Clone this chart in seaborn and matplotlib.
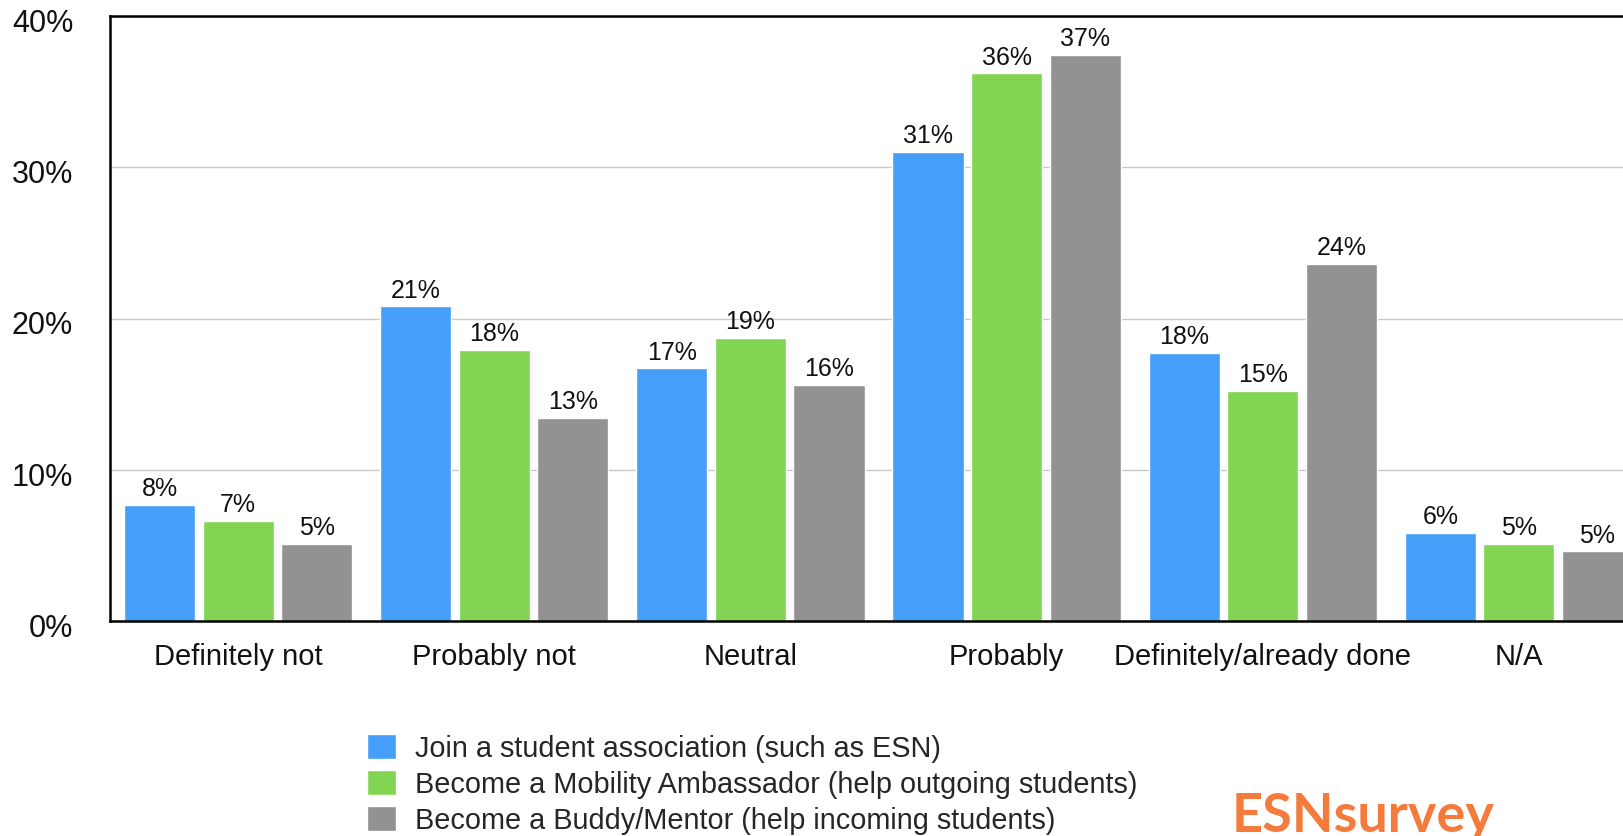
import matplotlib
matplotlib.use("Agg")
import matplotlib.pyplot as plt
import matplotlib.transforms as mtransforms
import seaborn as sns
import pandas as pd

# Survey answers (share of respondents, %)
responses = ["Definitely not", "Probably not", "Neutral", "Probably",
             "Definitely/already done", "N/A"]
activities = [
    "Join a student association (such as ESN)",
    "Become a Mobility Ambassador (help outgoing students)",
    "Become a Buddy/Mentor (help incoming students)",
]
join_association = [7.7, 20.8, 16.7, 31.0, 17.7, 5.8]
mobility_ambassador = [6.6, 17.9, 18.7, 36.2, 15.2, 5.1]
buddy_mentor = [5.1, 13.4, 15.6, 37.4, 23.6, 4.6]
colors = ["#459ef7", "#81d553", "#929292"]
y_ticks = [0, 10, 20, 30, 40]

series = [join_association, mobility_ambassador, buddy_mentor]
df = pd.DataFrame(
    [(r, a, v) for a, vals in zip(activities, series) for r, v in zip(responses, vals)],
    columns=["response", "activity", "value"],
)

sns.set_theme(style="white")
plt.rcParams["font.family"] = ["Liberation Sans", "DejaVu Sans"]

fig = plt.figure(figsize=(16.24, 8.37), dpi=100)
ax = fig.add_axes([110 / 1624, 1 - 622 / 837, 1537 / 1624, 605 / 837])

sns.barplot(data=df, x="response", y="value", hue="activity",
            order=responses, hue_order=activities, palette=colors,
            saturation=1, width=0.92, gap=0.095, ax=ax)

for c in ax.containers:
    ax.bar_label(c, fmt="{:.0f}%", padding=3.5, fontsize=18, color="#111111")

ax.set_xlim(-0.5, 5.5)
ax.set_ylim(0, 40)
ax.set_yticks(y_ticks)
ax.set_yticklabels([f"{t}%" for t in y_ticks])
ax.yaxis.grid(True, color="#c8c8c8", linewidth=1)
ax.set_axisbelow(True)
ax.set_xlabel("")
ax.set_ylabel("")
ax.tick_params(axis="y", length=0, pad=26.5, labelsize=22, labelcolor="#111111")
ax.tick_params(axis="x", length=0, pad=15, labelsize=21, labelcolor="#111111")

# nudge the y tick labels slightly downward
shift = mtransforms.ScaledTranslation(0, -2.5 / 72, fig.dpi_scale_trans)
for lbl in ax.get_yticklabels():
    lbl.set_transform(lbl.get_transform() + shift)

for side in ["left", "top", "bottom"]:
    ax.spines[side].set_color("black")
    ax.spines[side].set_linewidth(1.8)
ax.spines["right"].set_visible(False)

handles, labels = ax.get_legend_handles_labels()
ax.get_legend().remove()
fig.legend(handles, labels, loc="center left",
           bbox_to_anchor=(367 / 1624, 1 - 785 / 837),
           frameon=False, fontsize=20.8, borderpad=0, borderaxespad=0,
           handlelength=1.0, handleheight=0.95, handletextpad=0.66,
           labelspacing=0.26)

fig.text(1232 / 1624, 1 - 832 / 837, "ESNsurvey", fontsize=39,
         fontweight="bold", color="#f47b3b", family=["Lato", "DejaVu Sans"],
         ha="left", va="baseline")

fig.savefig("out.png", dpi=100)
